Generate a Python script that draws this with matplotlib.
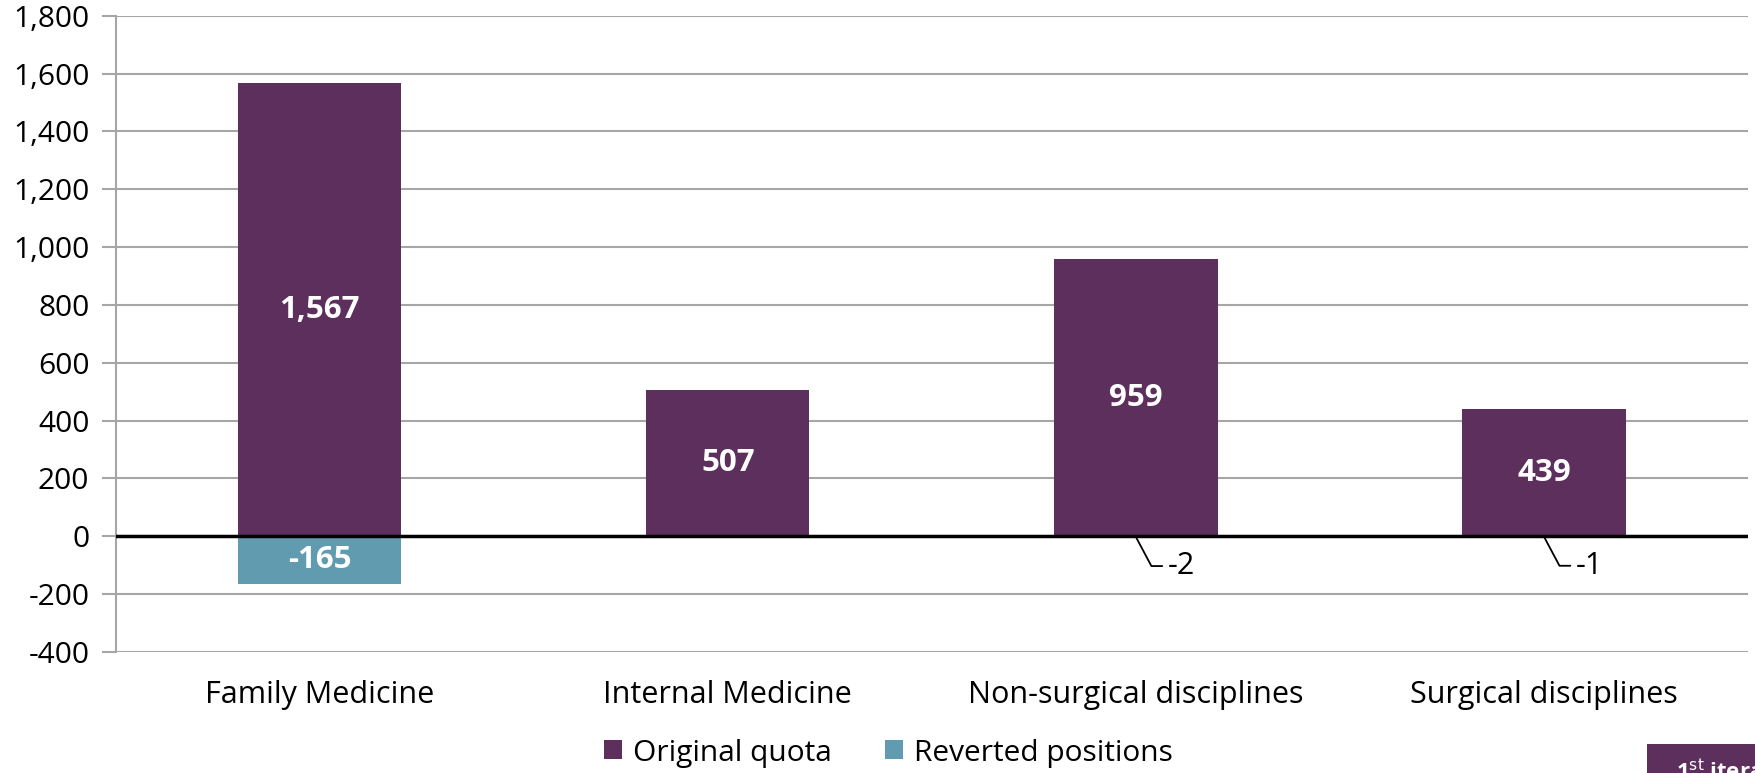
import matplotlib
matplotlib.use("Agg")
import matplotlib.pyplot as plt
from matplotlib.patches import Rectangle, Patch
from matplotlib.ticker import FuncFormatter

categories = ["Family Medicine", "Internal Medicine", "Non-surgical disciplines", "Surgical disciplines"]
original_quota = [1567, 507, 959, 439]
reverted_positions = [-165, 0, -2, -1]
series_names = ["Original quota", "Reverted positions"]
y_ticks = [-400, -200, 0, 200, 400, 600, 800, 1000, 1200, 1400, 1600, 1800]

PURPLE = "#5C2F5D"
TEAL = "#619BB0"
GRID = "#A6A6A6"

plt.rcParams['font.family'] = ['Open Sans', 'DejaVu Sans']

fig = plt.figure(figsize=(17.56, 7.73), dpi=100)
ax = fig.add_axes([115.7 / 1756, 1 - 652 / 773, (1748 - 115.7) / 1756, (652 - 15.7) / 773])

x = list(range(len(categories)))
width = 0.4
ax.bar(x, original_quota, width, color=PURPLE, zorder=3)
ax.bar(x, reverted_positions, width, color=TEAL, zorder=3)

ax.set_xlim(-0.5, len(categories) - 0.5)
ax.set_ylim(y_ticks[0], y_ticks[-1])
ax.set_yticks(y_ticks)
ax.yaxis.set_major_formatter(FuncFormatter(lambda v, p: f"{int(v):,}"))
ax.set_xticks(x)
ax.set_xticklabels(categories, fontsize=22)
ax.tick_params(axis='x', length=0, pad=20)
ax.tick_params(axis='y', length=10, width=1.5, color=GRID, labelsize=21.5, pad=9)

for s in ["top", "right", "bottom"]:
    ax.spines[s].set_visible(False)
ax.spines["left"].set_color(GRID)
ax.spines["left"].set_linewidth(1.5)
ax.yaxis.grid(True, color=GRID, linewidth=1.5, zorder=0)
ax.set_axisbelow(True)
ax.axhline(0, color="black", linewidth=2.5, zorder=4)

# labels
for xi, v in zip(x, original_quota):
    ax.text(xi, v / 2, f"{v:,}", ha="center", va="center", color="white",
            fontsize=22.5, fontweight="bold", zorder=5)
for xi, v in zip(x, reverted_positions):
    if v == 0:
        continue
    if abs(v) >= 50:
        ax.text(xi, v / 2, f"{v:,}", ha="center", va="center", color="white",
                fontsize=22.5, fontweight="bold", zorder=5)
    else:
        ax.annotate(f"{v}", xy=(xi, v), xytext=(23, -21), textcoords="offset points",
                    ha="left", va="center", fontsize=22, color="black", zorder=5,
                    arrowprops=dict(arrowstyle="-", color="black", lw=1.3,
                                    connectionstyle="angle,angleA=0,angleB=-62,rad=0",
                                    shrinkA=2, shrinkB=0))

handles = [Patch(facecolor=PURPLE), Patch(facecolor=TEAL)]
fig.legend(handles, series_names, loc="center", bbox_to_anchor=(0.506, 1 - 753 / 773),
           ncol=2, frameon=False, fontsize=21.5, handlelength=0.6, handleheight=0.6,
           handletextpad=0.35, columnspacing=1.8)

# cut-off badge at bottom right
fig.patches.append(Rectangle((1647 / 1756, 0), (1756 - 1647) / 1756, 29 / 773,
                             transform=fig.transFigure, facecolor=PURPLE, edgecolor="none"))
fig.text(1676 / 1756, 1 - 759 / 773, r"1$^{\mathrm{st}}$ iteration", color="white",
         fontsize=16, fontweight="bold", ha="left", va="top")

fig.savefig("out.png", dpi=100)
